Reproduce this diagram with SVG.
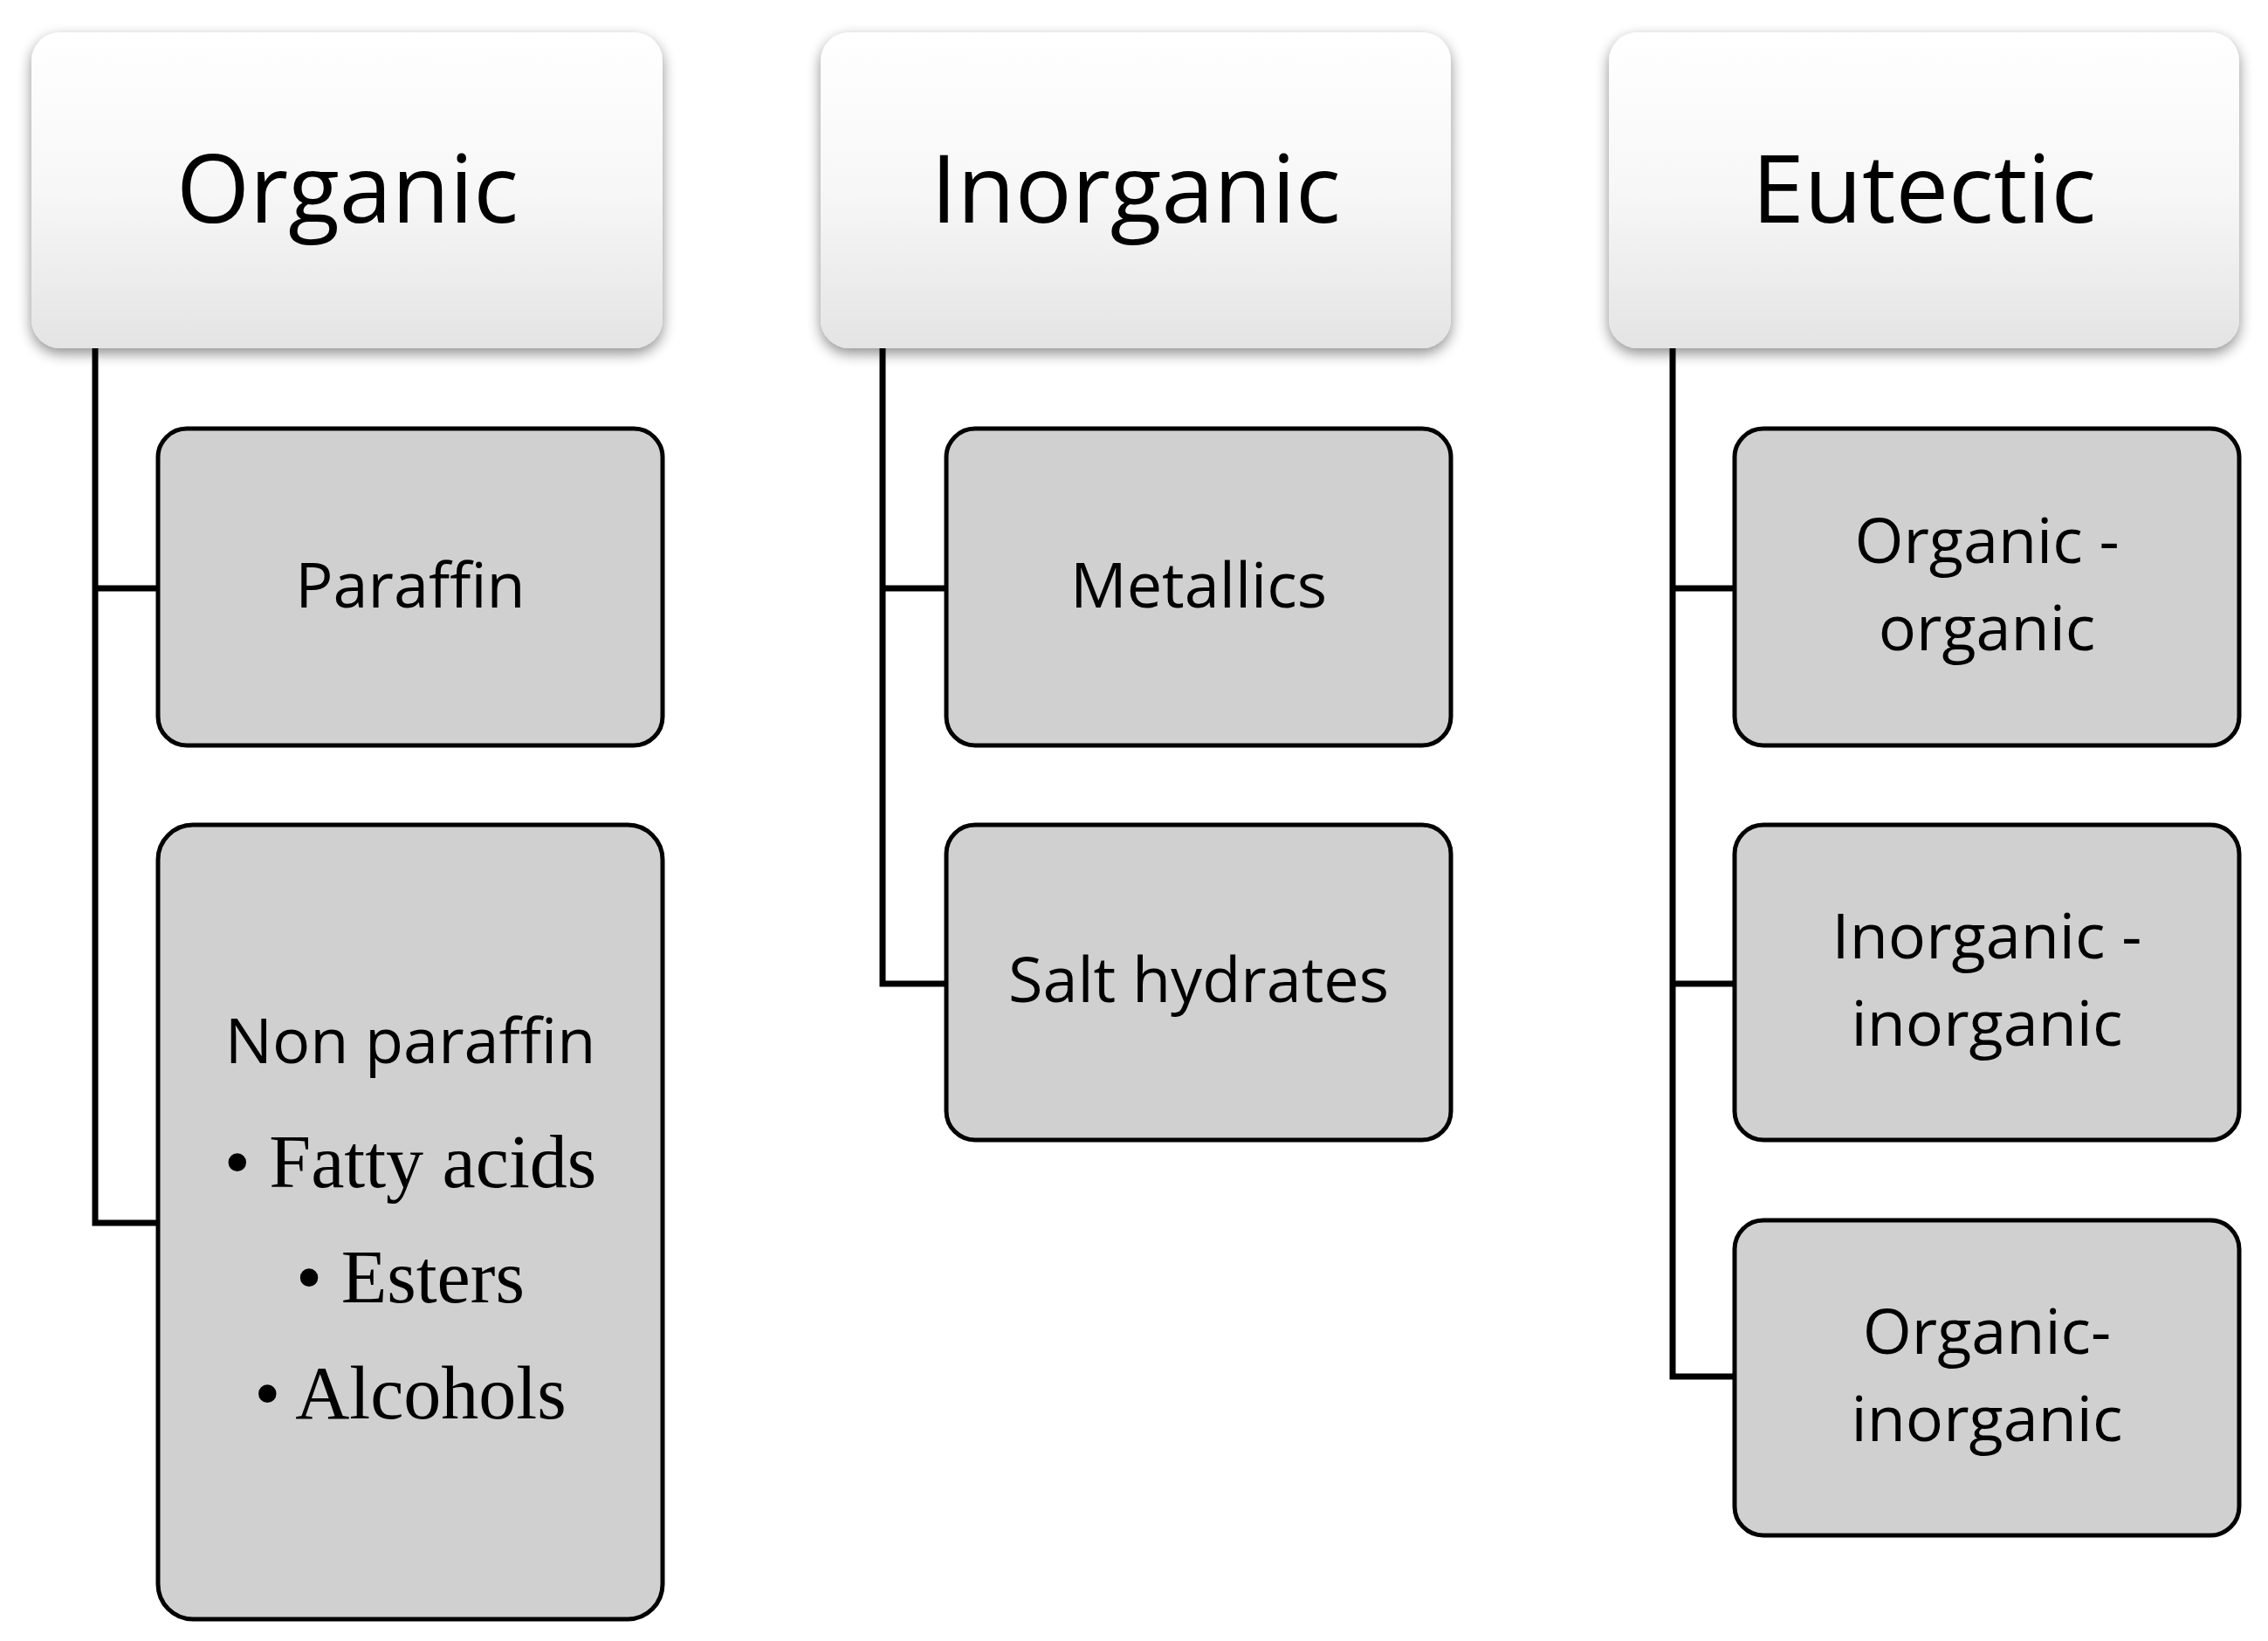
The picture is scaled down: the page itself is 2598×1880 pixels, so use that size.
<svg xmlns="http://www.w3.org/2000/svg" width="2598" height="1880" viewBox="0 0 2598 1880">
<defs>
<linearGradient id="hg" x1="0" y1="0" x2="0" y2="1"><stop offset="0" stop-color="#ffffff"/><stop offset="0.5" stop-color="#f7f7f7"/><stop offset="1" stop-color="#e4e4e4"/></linearGradient>
<filter id="sh" x="-10%" y="-10%" width="120%" height="130%"><feGaussianBlur in="SourceAlpha" stdDeviation="8"/><feOffset dx="0" dy="6"/><feComponentTransfer><feFuncA type="linear" slope="0.45"/></feComponentTransfer><feMerge><feMergeNode/><feMergeNode in="SourceGraphic"/></feMerge></filter>
</defs>
<style>
.hd{fill:url(#hg);filter:url(#sh)}
.ch{fill:#d0d0d0;stroke:#000;stroke-width:5}
.ht{font-family:"Open Sans","DejaVu Sans",sans-serif;font-size:108px;text-anchor:middle;fill:#000}
.ct{font-family:"Open Sans","DejaVu Sans",sans-serif;font-size:72px;text-anchor:middle;fill:#000}
.bt{font-family:"Liberation Serif",serif;font-size:86px;text-anchor:middle;fill:#000}
.cn{fill:none;stroke:#000;stroke-width:7}
</style>
<rect width="2598" height="1880" fill="#fff"/>
<g id="connectors">
<path class="cn" d="M109 399V1401H181M109 674H181"/>
<path class="cn" d="M1011 399V1127H1084M1011 674H1084"/>
<path class="cn" d="M1916 399V1577H1987M1916 674H1987M1916 1127H1987"/>
</g>
<g id="organic"><rect class="hd" x="36" y="37" width="723" height="362" rx="33"/><text class="ht" x="398" y="255">Organic</text></g>
<g id="inorganic"><rect class="hd" x="940" y="37" width="722" height="362" rx="33"/><text class="ht" x="1301" y="255">Inorganic</text></g>
<g id="eutectic"><rect class="hd" x="1843" y="37" width="722" height="362" rx="33"/><text class="ht" x="2204" y="255">Eutectic</text></g>
<g id="paraffin"><rect class="ch" x="181" y="491" width="578" height="363" rx="33"/><text class="ct" x="470" y="696">Paraffin</text></g>
<g id="nonparaffin"><rect class="ch" x="181" y="945" width="578" height="910" rx="40"/><text class="ct" x="470" y="1218">Non paraffin</text>
<text class="bt" x="470" y="1360">• Fatty acids</text><text class="bt" x="470" y="1492">• Esters</text><text class="bt" x="470" y="1625">• Alcohols</text></g>
<g id="metallics"><rect class="ch" x="1084" y="491" width="578" height="363" rx="33"/><text class="ct" x="1373" y="696">Metallics</text></g>
<g id="salthydrates"><rect class="ch" x="1084" y="945" width="578" height="361" rx="33"/><text class="ct" x="1373" y="1148">Salt hydrates</text></g>
<g id="oo"><rect class="ch" x="1987" y="491" width="578" height="363" rx="33"/><text class="ct" x="2276" y="645">Organic -</text><text class="ct" x="2276" y="745">organic</text></g>
<g id="ii"><rect class="ch" x="1987" y="945" width="578" height="361" rx="33"/><text class="ct" x="2276" y="1098">Inorganic -</text><text class="ct" x="2276" y="1198">inorganic</text></g>
<g id="oi"><rect class="ch" x="1987" y="1398" width="578" height="361" rx="33"/><text class="ct" x="2276" y="1551">Organic-</text><text class="ct" x="2276" y="1651">inorganic</text></g>
</svg>
